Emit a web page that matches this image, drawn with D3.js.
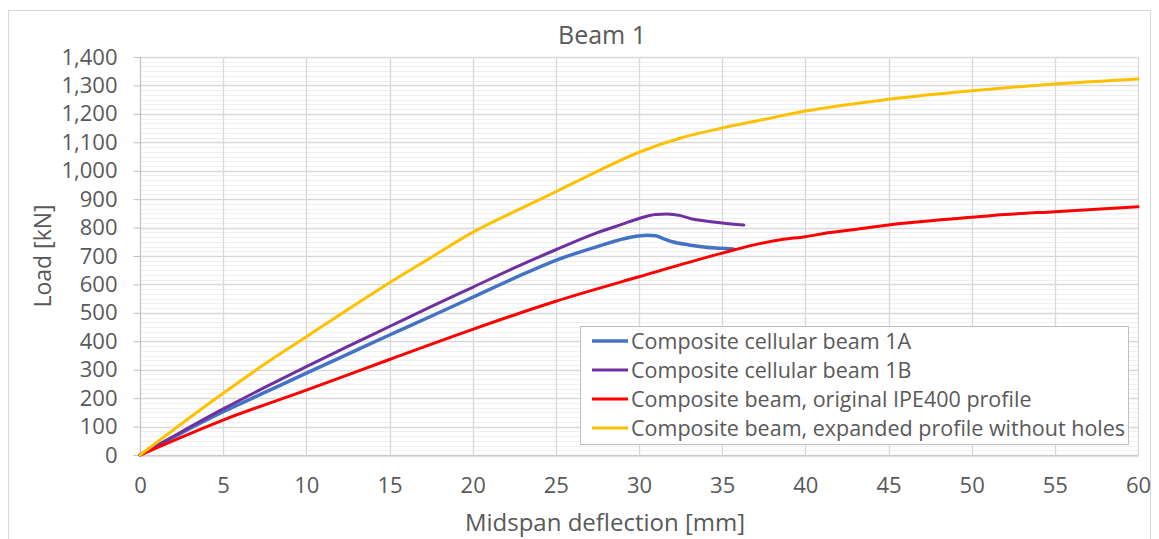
<!DOCTYPE html>
<html>
<head>
<meta charset="utf-8">
<script src="https://cdn.jsdelivr.net/npm/d3@7"></script>
<style>
  html, body { margin: 0; padding: 0; background: #ffffff; }
  svg { display: block; }
  text { font-family: "Open Sans", "Noto Sans", sans-serif; fill: #595959; }
</style>
</head>
<body>
<svg id="chart" width="1159" height="539"></svg>
<script>
// Load–deflection curves, Beam 1 (deflection in mm, load in kN)
const beam1A = [
  [0,0],[2.5,78],[5,152],[7.5,220],[10,288],[12.5,355],[15,422],[17.5,488],[20,555],
  [22.5,622],[25,685],[27.5,733],[29.5,766],[30.5,773],[31,771],[31.5,760],[32,750],
  [33,739],[34,731],[35,727],[35.7,724]
];
const beam1B = [
  [0,0],[2.5,82],[5,162],[7.5,238],[10,311],[12.5,382],[15,452],[17.5,522],[20,590],
  [22.5,658],[25,722],[27.5,782],[29,812],[30,832],[31,846],[31.7,848],[32.5,842],
  [33.2,830],[34,823],[35,816],[36.3,809]
];
const ipe400 = [
  [0,0],[5,123],[10,228],[15,336],[20,442],[25,541],[30,627],[35,710],[37,740],
  [38.5,757],[40,768],[41.5,783],[42.5,790],[45,809],[50,836],[52,846],[55,856],[60,873]
];
const expanded = [
  [0,0],[2.5,110],[5,217],[7.5,320],[10,416],[12.5,512],[15,606],[17.5,695],[20,783],
  [22.5,856],[25,926],[27.5,998],[30,1065],[32.5,1115],[35,1150],[37.5,1180],[40,1210],
  [45,1251],[50,1281],[55,1305],[60,1323]
];

const seriesNames = [
  "Composite cellular beam 1A",
  "Composite cellular beam 1B",
  "Composite beam, original IPE400 profile",
  "Composite beam, expanded profile without holes"
];
const seriesColors = ["#4472C4", "#7030A0", "#FF0000", "#FFC000"];
const seriesData = [beam1A, beam1B, ipe400, expanded];
const seriesWidths = [3.5, 3, 3, 3];

const xTicks = [0,5,10,15,20,25,30,35,40,45,50,55,60];
const yTicks = [0,100,200,300,400,500,600,700,800,900,1000,1100,1200,1300,1400];
const yMinorStep = 100 / 6;

const svg = d3.select("#chart");
const plot = { left: 140, right: 1138, top: 57, bottom: 455 };

const x = d3.scaleLinear().domain([0, 60]).range([plot.left, plot.right]);
const y = d3.scaleLinear().domain([0, 1400]).range([plot.bottom, plot.top]);

// chart frame
svg.append("rect")
  .attr("x", 8.5).attr("y", 10.5)
  .attr("width", 1142).attr("height", 545)
  .attr("fill", "#ffffff").attr("stroke", "#d9d9d9").attr("stroke-width", 1);

// minor horizontal gridlines
const minor = d3.range(0, 1400, yMinorStep).filter(v => Math.abs(v % 100) > 1e-6 && Math.abs((v % 100) - 100) > 1e-6);
svg.append("g").selectAll("line").data(minor).join("line")
  .attr("x1", plot.left).attr("x2", plot.right)
  .attr("y1", d => Math.round(y(d)) + 0.5).attr("y2", d => Math.round(y(d)) + 0.5)
  .attr("stroke", "#f0f0f0").attr("stroke-width", 1);

// major gridlines
svg.append("g").selectAll("line").data(yTicks).join("line")
  .attr("x1", plot.left).attr("x2", plot.right)
  .attr("y1", d => Math.round(y(d)) + 0.5).attr("y2", d => Math.round(y(d)) + 0.5)
  .attr("stroke", "#d9d9d9").attr("stroke-width", 1.3);
svg.append("g").selectAll("line").data(xTicks).join("line")
  .attr("y1", plot.top).attr("y2", plot.bottom)
  .attr("x1", d => Math.round(x(d)) + 0.5).attr("x2", d => Math.round(x(d)) + 0.5)
  .attr("stroke", "#d9d9d9").attr("stroke-width", 1.3);

// y axis
const yAxis = d3.axisLeft(y).tickValues(yTicks).tickSize(7).tickPadding(16)
  .tickFormat(d3.format(","));
const gy = svg.append("g").attr("transform", `translate(${plot.left + 0.5},0)`).call(yAxis);
gy.attr("font-size", null).attr("font-family", null);
gy.select(".domain").attr("stroke", "#bfbfbf").attr("d", `M0,${plot.top}V${plot.bottom}`);
gy.selectAll(".tick line").attr("stroke", "#bfbfbf");
gy.selectAll(".tick text").style("font-size", "22px").attr("fill", "#595959");

// x axis
const xAxis = d3.axisBottom(x).tickValues(xTicks).tickSize(0).tickPadding(22);
const gx = svg.append("g").attr("transform", `translate(0,${plot.bottom + 0.5})`).call(xAxis);
gx.attr("font-size", null).attr("font-family", null);
gx.select(".domain").attr("stroke", "#bfbfbf");
gx.selectAll(".tick text").style("font-size", "22px").attr("fill", "#595959");

// series
const line = d3.line().x(d => x(d[0])).y(d => y(d[1])).curve(d3.curveMonotoneX);
svg.append("g").selectAll("path").data(seriesData).join("path")
  .attr("d", line)
  .attr("fill", "none")
  .attr("stroke", (d, i) => seriesColors[i])
  .attr("stroke-width", (d, i) => seriesWidths[i])
  .attr("stroke-linejoin", "round").attr("stroke-linecap", "round");

// title and axis titles
svg.append("text").attr("x", 602).attr("y", 44).attr("text-anchor", "middle")
  .style("font-size", "25px").text("Beam 1");
svg.append("text").attr("x", 605).attr("y", 531).attr("text-anchor", "middle")
  .style("font-size", "24px").text("Midspan deflection [mm]");
svg.append("text").attr("transform", "translate(51,256) rotate(-90)")
  .attr("text-anchor", "middle").style("font-size", "23px").text("Load [kN]");

// legend
const legend = svg.append("g");
legend.append("rect").attr("x", 580.5).attr("y", 326.5).attr("width", 548).attr("height", 118)
  .attr("fill", "#ffffff").attr("stroke", "#bfbfbf").attr("stroke-width", 1);
const rows = legend.selectAll("g.item").data(seriesNames).join("g").attr("class", "item")
  .attr("transform", (d, i) => `translate(0,${341 + i * 29})`);
rows.append("line").attr("x1", 592).attr("x2", 628).attr("y1", 0).attr("y2", 0)
  .attr("stroke", (d, i) => seriesColors[i]).attr("stroke-width", (d, i) => seriesWidths[i]);
rows.append("text").attr("x", 631).attr("y", 7.5).style("font-size", "21.5px").text(d => d);
</script>
</body>
</html>
